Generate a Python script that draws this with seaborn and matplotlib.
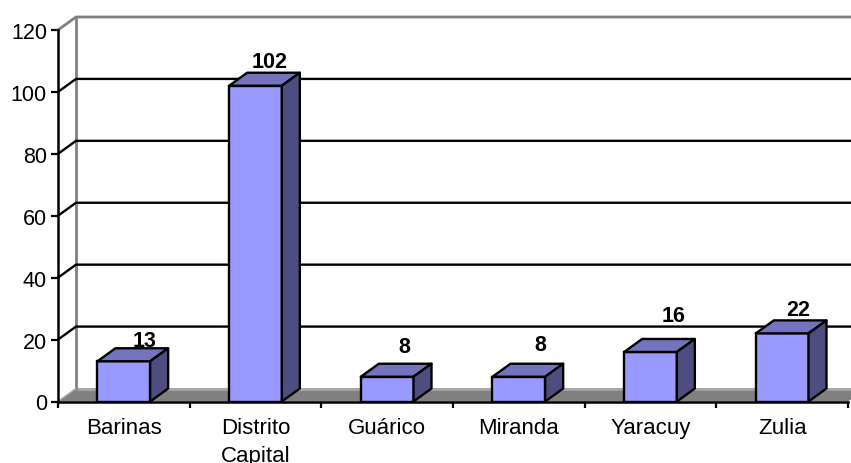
import pandas as pd
import matplotlib
matplotlib.use('Agg')
import matplotlib.pyplot as plt
from matplotlib.patches import Polygon
import seaborn as sns

# Datos del grafico
estados = ['Barinas', 'Distrito\nCapital', 'Guárico', 'Miranda', 'Yaracuy', 'Zulia']
valores = [13, 102, 8, 8, 16, 22]
marcas_y = [0, 20, 40, 60, 80, 100, 120]

# Ajuste manual de las etiquetas (pixeles respecto al frente de la barra)
nudge_x = [21, 14, 17, 21, 23, 16]
nudge_y = [21, 24, 30, 32, 36, 24]

sns.set_theme(style='white')
plt.rcParams['font.family'] = ['Liberation Sans', 'DejaVu Sans']

W, H = 851, 464
fig = plt.figure(figsize=(W / 100, H / 100), dpi=100, facecolor='white')
ax = fig.add_axes([58 / W, (H - 402.5) / H, 790 / W, 371.5 / H])

df = pd.DataFrame({'estado': estados, 'valor': valores})
sns.barplot(data=df, x='estado', y='valor', color='#9999FF', saturation=1, width=0.4,
            edgecolor='black', linewidth=1.7, zorder=5, ax=ax)

ax.set_xlim(-0.5, 5.5)
ax.set_ylim(0, 120)

# Profundidad del efecto 3D en unidades de datos
px_x = 6 / 790
px_y = 120 / 371.5
dx = 18 * px_x
dy = 13 * px_y

# Piso
x0, x1 = ax.get_xlim()
ax.add_patch(Polygon([(x0, 0), (x1, 0), (x1 + dx, dy), (x0 + dx, dy)], closed=True,
                     facecolor='#808080', edgecolor='none', zorder=1, clip_on=False))
ax.plot([x0 + dx, x1 + dx], [dy, dy], color='#a6a6a6', lw=2, zorder=2, clip_on=False)

# Paredes y lineas de division
ax.plot([x0 + dx, x0 + dx], [dy, 120 + dy], color='#808080', lw=2, zorder=2, clip_on=False)
ax.plot([x0, x0 + dx, x1 + dx], [120, 120 + dy, 120 + dy], color='#808080', lw=2,
        zorder=2, clip_on=False)
for m in marcas_y[1:-1]:
    ax.plot([x0, x0 + dx, x1 + dx], [m, m + dy, m + dy], color='black', lw=1.7,
            zorder=3, clip_on=False)
ax.plot([x0, x0 + dx], [0, dy], color='#a6a6a6', lw=1, zorder=2, clip_on=False)

# Caras superior y lateral de cada barra
for i, bar in enumerate(ax.patches[:len(valores)]):
    izq = bar.get_x()
    der = izq + bar.get_width()
    alto = bar.get_height()
    ax.add_patch(Polygon([(izq, alto), (der, alto), (der + dx, alto + dy), (izq + dx, alto + dy)],
                         closed=True, facecolor='#7373BF', edgecolor='black', lw=1.7,
                         joinstyle='round', zorder=5))
    ax.add_patch(Polygon([(der, 0), (der + dx, dy), (der + dx, alto + dy), (der, alto)],
                         closed=True, facecolor='#4D4D80', edgecolor='black', lw=1.7,
                         joinstyle='round', zorder=5))
    ax.annotate(str(valores[i]), (izq + bar.get_width() / 2, alto),
                xytext=(nudge_x[i] * 0.72, nudge_y[i] * 0.72), textcoords='offset points',
                ha='center', va='center', fontsize=15.5, fontweight='bold', color='black', zorder=10)

# Ejes
sns.despine(ax=ax, top=True, right=True)
for lado in ['left', 'bottom']:
    ax.spines[lado].set_color('black')
    ax.spines[lado].set_linewidth(1.8)
    ax.spines[lado].set_zorder(6)

ax.set_yticks(marcas_y)
ax.set_xticks([i - 0.5 for i in range(len(estados) + 1)], minor=True)
ax.set_xticks(range(len(estados)))
ax.set_xticklabels(estados)
ax.tick_params(axis='x', which='major', length=0, pad=11.5, labelsize=16, colors='black')
ax.tick_params(axis='x', which='minor', bottom=True, length=4, width=1.6, color='black')
ax.tick_params(axis='y', left=True, length=5, width=1.6, pad=3, labelsize=15.5, colors='black')
for lbl in ax.get_xticklabels():
    lbl.set_linespacing(1.43)
ax.set_xlabel('')
ax.set_ylabel('')

fig.savefig('out.png', dpi=100, facecolor='white')
